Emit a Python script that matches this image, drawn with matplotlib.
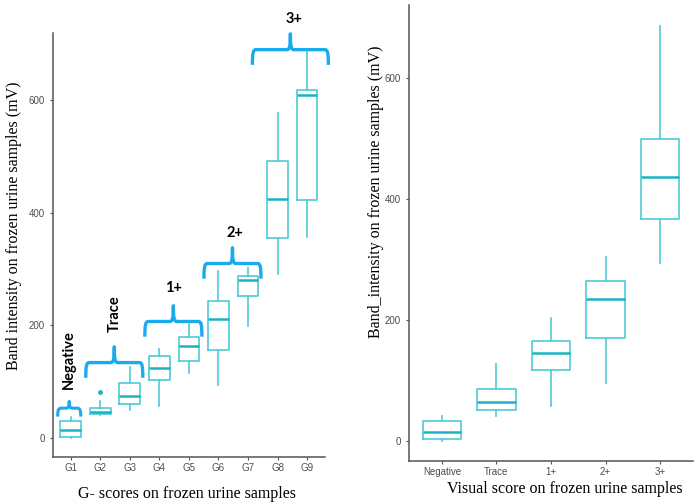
import matplotlib
matplotlib.use("Agg")
import matplotlib.pyplot as plt
from matplotlib.path import Path
from matplotlib.patches import PathPatch

# ---------------- data ----------------
g_labels = ["G1", "G2", "G3", "G4", "G5", "G6", "G7", "G8", "G9"]
g_q1 = [2, 43, 60, 103, 136, 156, 252, 356, 423]
g_med = [14, 46, 75, 124, 164, 211, 281, 425, 609]
g_q3 = [31, 53, 97, 145, 179, 244, 287, 493, 618]
g_lo = [0, 40, 50, 57, 115, 95, 199, 292, 358]
g_hi = [38, 66, 127, 159, 202, 296, 302, 577, 685]
g_fliers = [[], [81], [], [], [], [], [], [], []]

v_labels = ["Negative", "Trace", "1+", "2+", "3+"]
v_q1 = [3, 50, 116, 170, 367]
v_med = [15, 63, 145, 234, 435]
v_q3 = [32, 85, 165, 264, 499]
v_lo = [0, 41, 57, 96, 293]
v_hi = [40, 127, 203, 303, 685]

# brace groups on left panel
brace_names = ["Negative", "Trace", "1+", "2+", "3+"]
brace_first = [1, 2, 4, 6, 8]
brace_last = [1, 3, 5, 7, 9]
brace_level = [53, 134, 207, 310, 690]

BOX_C = "#4ECBD6"
MED_C = "#1BB3C2"
BRACE_C = "#1AAAEE"
AX_C = "#555555"
TICK_C = "#4D4D4D"

W, H = 697, 504
fig = plt.figure(figsize=(6.97, 5.04), dpi=100)
axL = fig.add_axes([0.076, 0.093, 0.390, 0.842])
axR = fig.add_axes([0.587, 0.085, 0.407, 0.905])


def stats(q1, med, q3, lo, hi, fl=None):
    out = []
    for i in range(len(q1)):
        out.append(dict(q1=q1[i], med=med[i], q3=q3[i], whislo=lo[i],
                        whishi=hi[i], fliers=(fl[i] if fl else [])))
    return out


def draw(ax, st, labels):
    pos = list(range(1, len(st) + 1))
    ax.bxp(st, positions=pos, widths=0.7, showcaps=False, patch_artist=False,
           boxprops=dict(color=BOX_C, linewidth=1.2),
           whiskerprops=dict(color=BOX_C, linewidth=1.2),
           medianprops=dict(color=MED_C, linewidth=1.8),
           flierprops=dict(marker="o", markersize=2.5, markerfacecolor=MED_C,
                           markeredgecolor=MED_C))
    ax.set_xticks(pos)
    ax.set_xticklabels(labels)
    ax.set_xlim(0.4, len(st) + 0.6)
    ax.set_ylim(-34, 720)
    ax.set_yticks([0, 200, 400, 600])
    for s in ["top", "right"]:
        ax.spines[s].set_visible(False)
    for s in ["left", "bottom"]:
        ax.spines[s].set_color(AX_C)
        ax.spines[s].set_linewidth(1.1)
    ax.tick_params(colors=AX_C, labelcolor=TICK_C, labelsize=7, length=2.5,
                   width=0.8)
    for t in ax.get_xticklabels() + ax.get_yticklabels():
        t.set_fontfamily("Liberation Sans")


draw(axL, stats(g_q1, g_med, g_q3, g_lo, g_hi, g_fliers), g_labels)
draw(axR, stats(v_q1, v_med, v_q3, v_lo, v_hi), v_labels)
axL.tick_params(axis="x", pad=1.5)
axR.tick_params(axis="x", pad=1.5)

serif = dict(family="Liberation Serif", fontsize=11.5)
fig.text(187 / W, 1 - 494 / H, "G- scores on frozen urine samples",
         ha="center", va="center", **serif)
fig.text(14 / W, 1 - 226 / H, "Band intensity on frozen urine samples (mV)",
         rotation=90, ha="center", va="center", **serif)
fig.text(565 / W, 1 - 489 / H, "Visual score on frozen urine samples",
         ha="center", va="center", **serif)
fig.text(376 / W, 1 - 192 / H, "Band_intensity on frozen urine samples (mV)",
         rotation=90, ha="center", va="center", **serif)


def brace(ax, x0, x1, y, up, down, lw=2.4):
    xm = (x0 + x1) / 2.0
    r = min(0.12, (x1 - x0) / 6)
    verts = [
        (x0, y - down),
        (x0, y - down * 0.2), (x0 + r * 0.2, y), (x0 + r, y),
        (xm - r, y),
        (xm - r * 0.2, y), (xm, y + up * 0.2), (xm, y + up),
        (xm, y + up * 0.2), (xm + r * 0.2, y), (xm + r, y),
        (x1 - r, y),
        (x1 - r * 0.2, y), (x1, y - down * 0.2), (x1, y - down),
    ]
    codes = [Path.MOVETO,
             Path.CURVE4, Path.CURVE4, Path.CURVE4,
             Path.LINETO,
             Path.CURVE4, Path.CURVE4, Path.CURVE4,
             Path.CURVE4, Path.CURVE4, Path.CURVE4,
             Path.LINETO,
             Path.CURVE4, Path.CURVE4, Path.CURVE4]
    p = PathPatch(Path(verts, codes), fill=False, edgecolor=BRACE_C, lw=lw,
                  clip_on=False, capstyle="butt", joinstyle="round")
    ax.add_patch(p)


bold = dict(family="Lato", fontweight="bold", fontsize=10.5, color="black",
            clip_on=False)
for i, name in enumerate(brace_names):
    f, l = brace_first[i], brace_last[i]
    y = brace_level[i]
    if f == l:
        brace(axL, f - 0.44, l + 0.34, y, 12, 15, lw=2.2)
    elif i < 4:
        brace(axL, f - 0.49, l + 0.44, y, 28, 27)
    else:
        brace(axL, f - 0.85, l + 0.72, y, 28, 27)

# labels
axL.text(0.93, 139, "Negative", rotation=90, ha="center", va="center", **bold)
axL.text(2.49, 221, "Trace", rotation=90, ha="center", va="center", **bold)
axL.text(4.48, 267, "1+", ha="center", va="center", **bold)
axL.text(6.57, 365, "2+", ha="center", va="center", **bold)
axL.text(8.57, 744, "3+", ha="center", va="center", **bold)

fig.savefig("out.png", dpi=100)
